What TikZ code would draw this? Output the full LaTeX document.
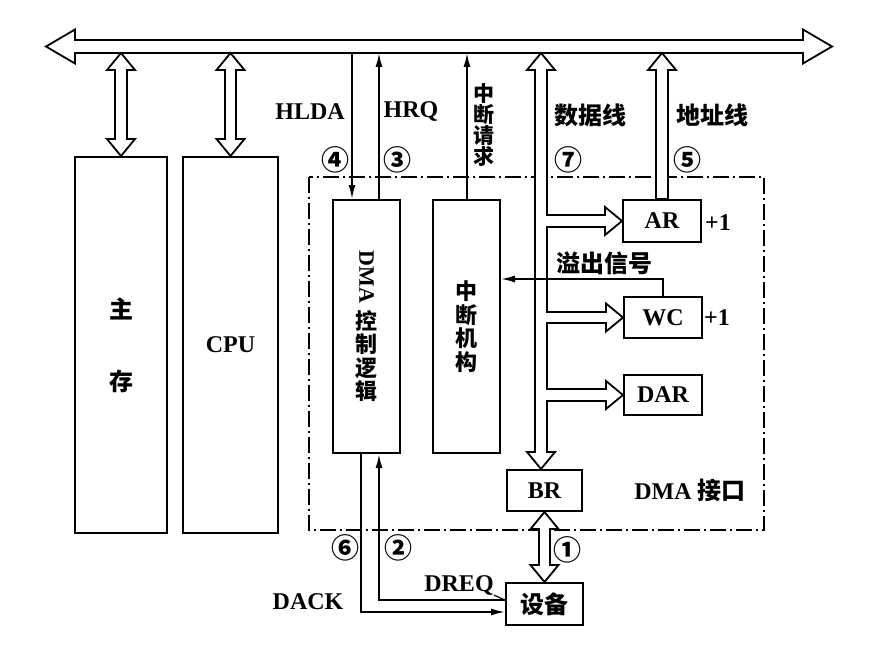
\documentclass[tikz,border=0pt]{standalone}
\usepackage{fontspec}
\setmainfont{Liberation Serif}
\newfontfamily\cjk{Noto Sans CJK SC}
\usetikzlibrary{arrows.meta}

\newcommand{\zh}[1]{{\cjk\bfseries #1}}
\newcommand{\cnum}[1]{{\cjk\fontsize{28}{28}\selectfont #1}}

\tikzset{
  headsm/.pic={\filldraw[fill=white,line width=1.8pt] (0,0) -- (-14,17) -- (14,17) -- cycle;},
  headbig/.pic={\filldraw[fill=white,line width=1.8pt] (0,0) -- (-17,29) -- (17,29) -- cycle;}
}

\begin{document}
\begin{tikzpicture}[x=1pt,y=-1pt,
    box/.style={draw,line width=2pt,inner sep=0pt,font=\bfseries\fontsize{24}{26}\selectfont},
    lbl/.style={inner sep=0pt,font=\bfseries\fontsize{24}{26}\selectfont},
    sig/.style={line width=1.8pt,-{Latex[length=14pt,width=7pt]}},
    pipeout/.style={line width=13.5pt,shorten <=16pt,shorten >=16pt},
    pipein/.style={line width=9.5pt,white,shorten <=15pt,shorten >=15pt},
    busout/.style={line width=15pt,shorten <=28pt,shorten >=28pt},
    busin/.style={line width=11pt,white,shorten <=27pt,shorten >=27pt},
    iface/.style={line width=1.8pt,dash pattern=on 16pt off 4pt on 2pt off 4pt}]

  \useasboundingbox (0,0) rectangle (882,663);

  % boxes
  \node[box,minimum width=92pt,minimum height=376pt,align=center] (mem) at (121,345) {\zh{主}\\[46pt]\zh{存}};
  \node[box,minimum width=95pt,minimum height=376pt] (cpu) at (230.5,345) {CPU};
  \node[box,minimum width=67pt,minimum height=253pt,align=center,
        font=\bfseries\fontsize{22}{23.5}\selectfont] (dma) at (366.5,326.5)
        {\rotatebox{-90}{DMA}\\[6pt]\zh{控}\\\zh{制}\\\zh{逻}\\\zh{辑}};
  \node[box,minimum width=67pt,minimum height=253pt,align=center,
        font=\bfseries\fontsize{22}{23.5}\selectfont] (intr) at (466.5,326.5)
        {\zh{中}\\\zh{断}\\\zh{机}\\\zh{构}};
  \node[box,minimum width=78pt,minimum height=42pt] (ar) at (662,221) {AR};
  \node[box,minimum width=78pt,minimum height=41pt] (wc) at (663,317.5) {WC};
  \node[box,minimum width=78pt,minimum height=40pt] (dar) at (663,395) {DAR};
  \node[box,minimum width=75pt,minimum height=41pt] (br) at (544.5,490.5) {BR};
  \node[box,minimum width=77pt,minimum height=42pt] (dev) at (544.5,604) {\zh{设备}};

  % DMA interface
  \draw[iface] (309,177) rectangle (764,530);

  % system bus
  \coordinate (busL) at (46,46.5);
  \coordinate (busR) at (832,46.5);
  \coordinate (busB) at (0,53);
  \draw[busout] (busL) -- (busR);
  \pic[rotate=90] at (busL) {headbig};
  \pic[rotate=-90] at (busR) {headbig};
  \draw[busin] (busL) -- (busR);

  % hollow pipes
  \coordinate (dtop) at (541,53);
  \draw[pipeout] (mem.north |- busB) -- (mem.north);
  \draw[pipeout] (cpu.north |- busB) -- (cpu.north);
  \draw[pipeout] (dtop) -- (dtop |- br.north);
  \draw[pipeout,shorten <=0pt] (dtop |- ar.west) -- (ar.west);
  \draw[pipeout,shorten <=0pt] (dtop |- wc.west) -- (wc.west);
  \draw[pipeout,shorten <=0pt] (dtop |- dar.west) -- (dar.west);
  \draw[pipeout,shorten <=0pt] (ar.north) -- (ar.north |- busB);
  \draw[pipeout] (br.south) -- (dev.north);

  \pic at (mem.north |- busB) {headsm};
  \pic[rotate=180] at (mem.north) {headsm};
  \pic at (cpu.north |- busB) {headsm};
  \pic[rotate=180] at (cpu.north) {headsm};
  \pic at (dtop) {headsm};
  \pic[rotate=180] at (dtop |- br.north) {headsm};
  \pic[rotate=-90] at (ar.west) {headsm};
  \pic[rotate=-90] at (wc.west) {headsm};
  \pic[rotate=-90] at (dar.west) {headsm};
  \pic at (ar.north |- busB) {headsm};
  \pic at (br.south) {headsm};
  \pic[rotate=180] at (dev.north) {headsm};

  \draw[pipein] (mem.north |- busB) -- (mem.north);
  \draw[pipein] (cpu.north |- busB) -- (cpu.north);
  \draw[pipein] (dtop) -- (dtop |- br.north);
  \draw[pipein,shorten <=0pt] (dtop |- ar.west) -- (ar.west);
  \draw[pipein,shorten <=0pt] (dtop |- wc.west) -- (wc.west);
  \draw[pipein,shorten <=0pt] (dtop |- dar.west) -- (dar.west);
  \draw[pipein,shorten <=1.2pt] (ar.north) -- (ar.north |- busB);
  \draw[pipein] (br.south) -- (dev.north);

  % control lines
  \coordinate (hl) at (352,53);
  \coordinate (hr) at (379,53);
  \coordinate (irq) at (467,53);
  \coordinate (ovf) at (0,279);
  \coordinate (dq) at (0,600);
  \coordinate (dk) at (0,612);
  \coordinate (dackx) at (361,0);
  \draw[sig] (hl) -- (hl |- dma.north);
  \draw[sig] (hr |- dma.north) -- (hr);
  \draw[sig] (irq |- intr.north) -- (irq);
  \draw[sig] (wc.north) -- (wc.north |- ovf) -- (intr.east |- ovf);
  \draw[sig] (dev.west |- dq) -| (hr |- dma.south);
  \draw[sig] (dackx |- dma.south) |- (dev.west |- dk);

  % labels
  \node[lbl] (hlda) at (310,112) {HLDA};
  \node[lbl] (hrq) at (411,112) {HRQ};
  \node[lbl,align=center,font=\bfseries\fontsize{21}{21}\selectfont] (irqlbl) at (484,125)
        {\zh{中}\\\zh{断}\\\zh{请}\\\zh{求}};
  \node[lbl] (datalbl) at (590,115) {\zh{数据线}};
  \node[lbl] (addrlbl) at (712,115) {\zh{地址线}};
  \node[lbl] (n4) at (335,160) {\cnum{④}};
  \node[lbl] (n3) at (397,160) {\cnum{③}};
  \node[lbl] (n7) at (568,160) {\cnum{⑦}};
  \node[lbl] (n5) at (687,160) {\cnum{⑤}};
  \node[lbl] (n6) at (345,548) {\cnum{⑥}};
  \node[lbl] (n2) at (398,548) {\cnum{②}};
  \node[lbl] (n1) at (567,550) {\cnum{①}};
  \node[lbl] (arinc) at (718,223) {+1};
  \node[lbl] (wcinc) at (717,318) {+1};
  \node[lbl] (ovflbl) at (604,263) {\zh{溢出信号}};
  \node[lbl] (ifacelbl) at (690,490) {DMA \zh{接口}};
  \node[lbl] (dreq) at (459,585) {DREQ};
  \node[lbl] (dack) at (308,602) {DACK};
  \draw[line width=1.2pt] (dreq.south east) -- (dev.west |- dq);

\end{tikzpicture}
\end{document}
